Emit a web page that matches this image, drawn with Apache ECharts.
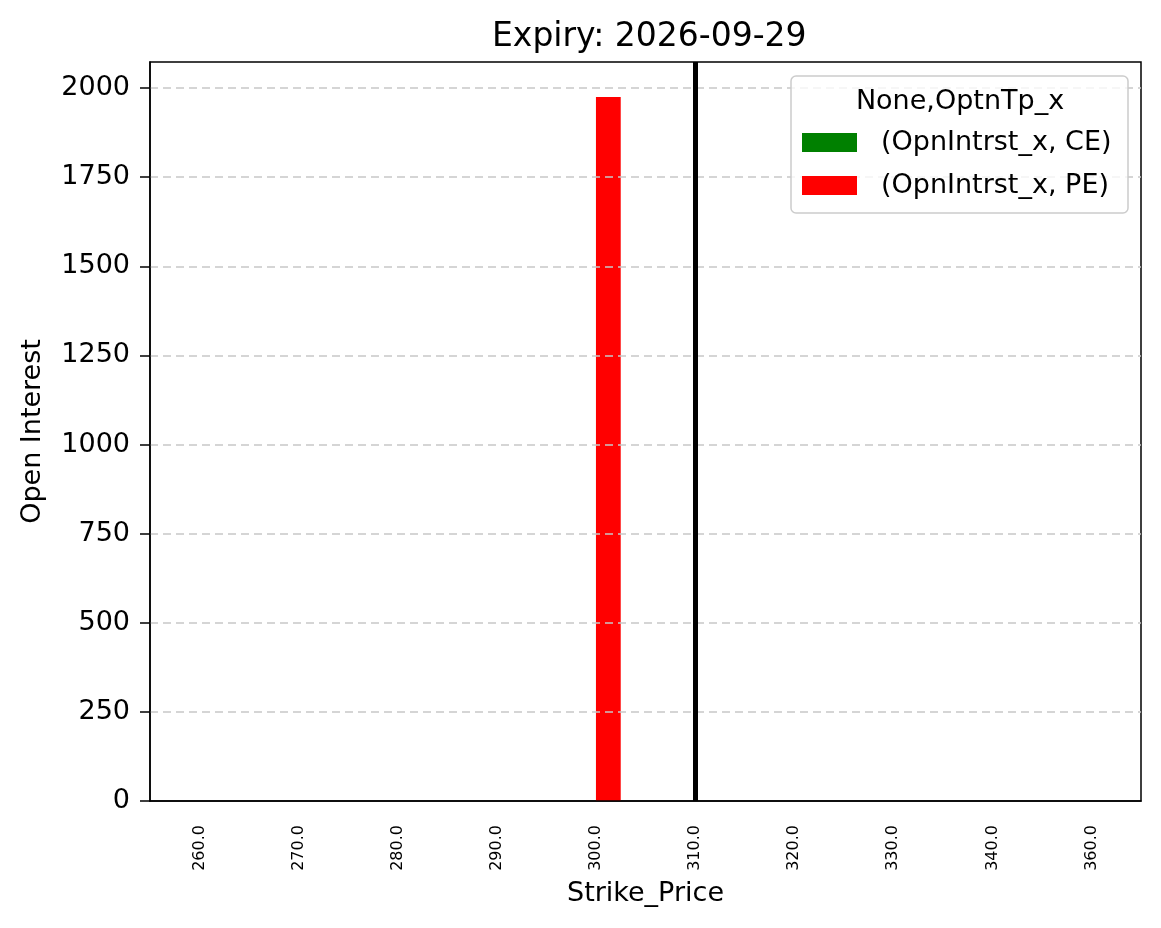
<!DOCTYPE html>
<html>
<head>
<meta charset="utf-8">
<script src="https://cdn.jsdelivr.net/npm/echarts@6/dist/echarts.min.js"></script>
<style>
  html, body { margin: 0; padding: 0; background: #fff; }
  #chart { width: 1161px; height: 928px; }
</style>
</head>
<body>
<div id="chart"></div>
<script>
// strike prices (note: 350.0 is absent in the source data)
var strikes = ['260.0', '270.0', '280.0', '290.0', '300.0', '310.0', '320.0', '330.0', '340.0', '360.0'];
var ce_oi = [0, 0, 0, 0, 0, 0, 0, 0, 0, 0];
var pe_oi = [0, 0, 0, 0, 1975, 0, 0, 0, 0, 0];
var spot_strike = '310.0';
var y_ticks = [0, 250, 500, 750, 1000, 1250, 1500, 1750, 2000];

var font = 'DejaVu Sans';
var chart = echarts.init(document.getElementById('chart'));

chart.setOption({
    animation: false,
    textStyle: { fontFamily: font },
    title: {
        text: 'Expiry: 2026-09-29',
        left: 487,
        top: 16,
        textStyle: { fontFamily: font, fontSize: 33, fontWeight: 'normal', color: '#000' }
    },
    grid: {
        left: 150, right: 20, top: 62, bottom: 127,
        show: true, borderColor: '#000', borderWidth: 1.5
    },
    legend: {
        data: ['(OpnIntrst_x, CE)', '(OpnIntrst_x, PE)'],
        orient: 'vertical',
        left: 802,
        top: 129,
        itemWidth: 55,
        itemHeight: 19,
        itemGap: 16,
        icon: 'rect',
        padding: 0,
        z: 6,
        textStyle: { fontFamily: font, fontSize: 27, color: '#000', padding: [0, 0, 0, 19] }
    },
    graphic: [{
        type: 'rect',
        z: 5,
        shape: { x: 791, y: 76, width: 337, height: 137, r: 5 },
        style: { fill: 'rgba(255,255,255,0.8)', stroke: '#cccccc', lineWidth: 1.5 }
    }, {
        type: 'text',
        z: 6,
        x: 960, y: 102,
        style: {
            text: 'None,OptnTp_x', font: '27px "DejaVu Sans"',
            fill: '#000', textAlign: 'center', textVerticalAlign: 'middle'
        }
    }],
    xAxis: {
        type: 'category',
        data: strikes,
        boundaryGap: true,
        z: 4,
        name: 'Strike_Price',
        nameLocation: 'middle',
        nameGap: 79,
        nameTextStyle: { fontFamily: font, fontSize: 27, color: '#000' },
        axisLine: { lineStyle: { color: '#000', width: 1.5 } },
        axisTick: { alignWithLabel: true, length: 10, lineStyle: { color: '#000', width: 1.5 } },
        axisLabel: { rotate: 90, fontSize: 16, color: '#000', margin: 24, fontFamily: font }
    },
    yAxis: {
        type: 'value',
        min: 0,
        max: 2073,
        interval: 250,
        z: 3,
        name: 'Open Interest',
        nameLocation: 'middle',
        nameGap: 104,
        nameTextStyle: { fontFamily: font, fontSize: 27, color: '#000' },
        axisLine: { show: true, lineStyle: { color: '#000', width: 1.5 } },
        axisTick: { show: true, length: 10, lineStyle: { color: '#000', width: 1.5 } },
        axisLabel: {
            fontSize: 27, color: '#000', margin: 20, fontFamily: font, showMaxLabel: false,
            formatter: function (v) { return y_ticks.indexOf(v) >= 0 ? String(v) : ''; }
        },
        splitLine: {
            show: true, showMinLine: false, showMaxLine: false,
            lineStyle: { color: '#c8c8c8', width: 1.5, type: [8, 5] }
        }
    },
    series: [{
        name: '(OpnIntrst_x, CE)',
        type: 'bar',
        data: ce_oi,
        barGap: 0,
        barCategoryGap: '50%',
        itemStyle: { color: '#008000' }
    }, {
        name: '(OpnIntrst_x, PE)',
        type: 'bar',
        data: pe_oi,
        barGap: 0,
        barCategoryGap: '50%',
        itemStyle: { color: '#ff0000' }
    }, {
        name: 'spot',
        type: 'line',
        data: [],
        z: 4,
        markLine: {
            silent: true,
            symbol: 'none',
            label: { show: false },
            lineStyle: { color: '#000', width: 5, type: 'solid' },
            data: [{ xAxis: spot_strike }]
        }
    }]
});
</script>
</body>
</html>
